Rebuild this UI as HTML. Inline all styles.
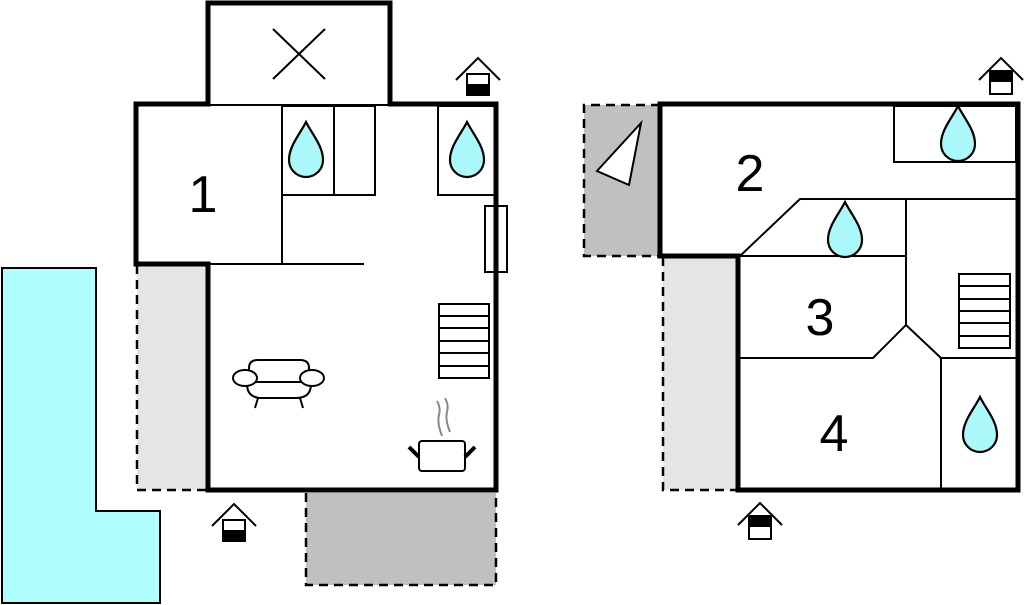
<!DOCTYPE html>
<html><head><style>html,body{margin:0;padding:0;background:#fff;}svg{display:block}</style></head>
<body>
<svg width="1024" height="605" viewBox="0 0 1024 605" xmlns="http://www.w3.org/2000/svg" font-family="Liberation Sans, sans-serif">
<defs>
<path id="drop" d="M0,0 C-6,12 -17,24 -17,38 A17 17 0 0 0 17,38 C17,24 6,12 0,0 Z" fill="#aaf8fa" stroke="#000" stroke-width="2.2"/>
</defs>
<path d="M2,268 H96 V511 H160 V603 H2 Z" fill="#b0ffff" stroke="#000" stroke-width="2"/>
<rect x="137" y="265" width="71" height="225" fill="#e5e5e5"/>
<path d="M137,265 V490 H208" fill="none" stroke="#000" stroke-width="2.5" stroke-dasharray="9,6"/>
<rect x="306" y="493" width="190" height="92" fill="#c0c0c0"/>
<path d="M306,493 V585 H496 V493" fill="none" stroke="#000" stroke-width="2.5" stroke-dasharray="9,6"/>
<rect x="584" y="105" width="76" height="151" fill="#c0c0c0"/>
<path d="M660,105 H584 V256 H660" fill="none" stroke="#000" stroke-width="2.5" stroke-dasharray="9,6"/>
<rect x="663" y="257" width="75" height="233" fill="#e5e5e5"/>
<path d="M663,257 V490 H738" fill="none" stroke="#000" stroke-width="2.5" stroke-dasharray="9,6"/>
<polygon points="641,123 629,185 597,171" fill="#fff" stroke="#000" stroke-width="2"/>

<g stroke="#000" stroke-width="2" fill="none">
<line x1="282" y1="104" x2="282" y2="264"/>
<line x1="208" y1="264" x2="364" y2="264"/>
<rect x="282" y="106" width="52" height="89"/>
<rect x="334" y="106" width="41" height="89"/>
<line x1="208" y1="105" x2="390" y2="105"/>
<rect x="438" y="106" width="57" height="89"/>
<rect x="485" y="206" width="22" height="66" fill="#fff"/>
<line x1="273" y1="29" x2="325" y2="79"/>
<line x1="325" y1="29" x2="273" y2="79"/>
<rect x="439" y="304" width="50" height="74" fill="#fff"/>
<line x1="439" y1="316" x2="489" y2="316"/><line x1="439" y1="328" x2="489" y2="328"/>
<line x1="439" y1="341" x2="489" y2="341"/><line x1="439" y1="353" x2="489" y2="353"/>
<line x1="439" y1="366" x2="489" y2="366"/>
<path d="M249,382 V368 Q249,360 258,360 H300 Q309,360 309,368 V382" />
<path d="M247,384 Q247,398 262,398 H296 Q311,398 311,384"/>
<line x1="255" y1="382" x2="302" y2="382"/>
<ellipse cx="245" cy="378" rx="12" ry="8" fill="#fff"/>
<ellipse cx="312" cy="378" rx="12" ry="8" fill="#fff"/>
<line x1="258" y1="398" x2="255" y2="408"/><line x1="300" y1="398" x2="303" y2="408"/>
<rect x="419" y="441" width="46" height="30" rx="3"/>
<line x1="409" y1="447" x2="419" y2="457" stroke-width="4"/>
<line x1="475" y1="447" x2="465" y2="457" stroke-width="4"/>
<path d="M437,401 Q441,408 439,415 Q437,423 442,436" stroke="#888"/>
<path d="M445,398 Q449,405 447,412 Q445,420 450,432" stroke="#888"/>
</g>
<g stroke="#000" stroke-width="5" fill="none" stroke-linecap="square">
<path d="M208,104 V3 H390 V104"/>
<path d="M208,104 H136 V264 H208 V490 H496 V104 H390"/>
</g>
<use href="#drop" x="306" y="122"/>
<use href="#drop" x="467" y="122"/>
<text x="203" y="212" font-size="52" text-anchor="middle">1</text>

<g stroke="#000" stroke-width="2" fill="none">
<rect x="894" y="106" width="122" height="56"/>
<path d="M1016,199 H800 L740,256 H906"/>
<path d="M906,199 V325 L873,358 H740"/>
<path d="M906,325 L941,358 H1016"/>
<line x1="941" y1="358" x2="941" y2="490"/>
<rect x="959" y="274" width="51" height="74" fill="#fff"/>
<line x1="959" y1="286" x2="1010" y2="286"/><line x1="959" y1="299" x2="1010" y2="299"/>
<line x1="959" y1="311" x2="1010" y2="311"/><line x1="959" y1="323" x2="1010" y2="323"/>
<line x1="959" y1="336" x2="1010" y2="336"/>
</g>
<g stroke="#000" stroke-width="5" fill="none" stroke-linecap="square">
<path d="M660,104 H1018 V490 H738 V256 H660 Z"/>
</g>
<use href="#drop" x="958" y="106"/>
<use href="#drop" x="845" y="202"/>
<use href="#drop" x="980" y="397"/>
<text x="750" y="191" font-size="52" text-anchor="middle">2</text>
<text x="820" y="335" font-size="52" text-anchor="middle">3</text>
<text x="834" y="451" font-size="52" text-anchor="middle">4</text>

<g stroke="#000" stroke-width="2" fill="#fff">
<g transform="translate(478,58)">
<polyline points="-22,22 0,0 22,22" fill="none"/>
<rect x="-11" y="16" width="22" height="21"/>
<rect x="-11" y="27" width="22" height="10" fill="#000"/>
</g>
<g transform="translate(234,504)">
<polyline points="-22,22 0,0 22,22" fill="none"/>
<rect x="-11" y="16" width="22" height="21"/>
<rect x="-11" y="27" width="22" height="10" fill="#000"/>
</g>
<g transform="translate(1001,58)">
<polyline points="-22,22 0,0 22,22" fill="none"/>
<rect x="-11" y="13" width="22" height="23"/>
<rect x="-11" y="13" width="22" height="10" fill="#000"/>
</g>
<g transform="translate(760,503)">
<polyline points="-22,22 0,0 22,22" fill="none"/>
<rect x="-11" y="13" width="22" height="23"/>
<rect x="-11" y="13" width="22" height="10" fill="#000"/>
</g>
</g>
</svg>
</body></html>
